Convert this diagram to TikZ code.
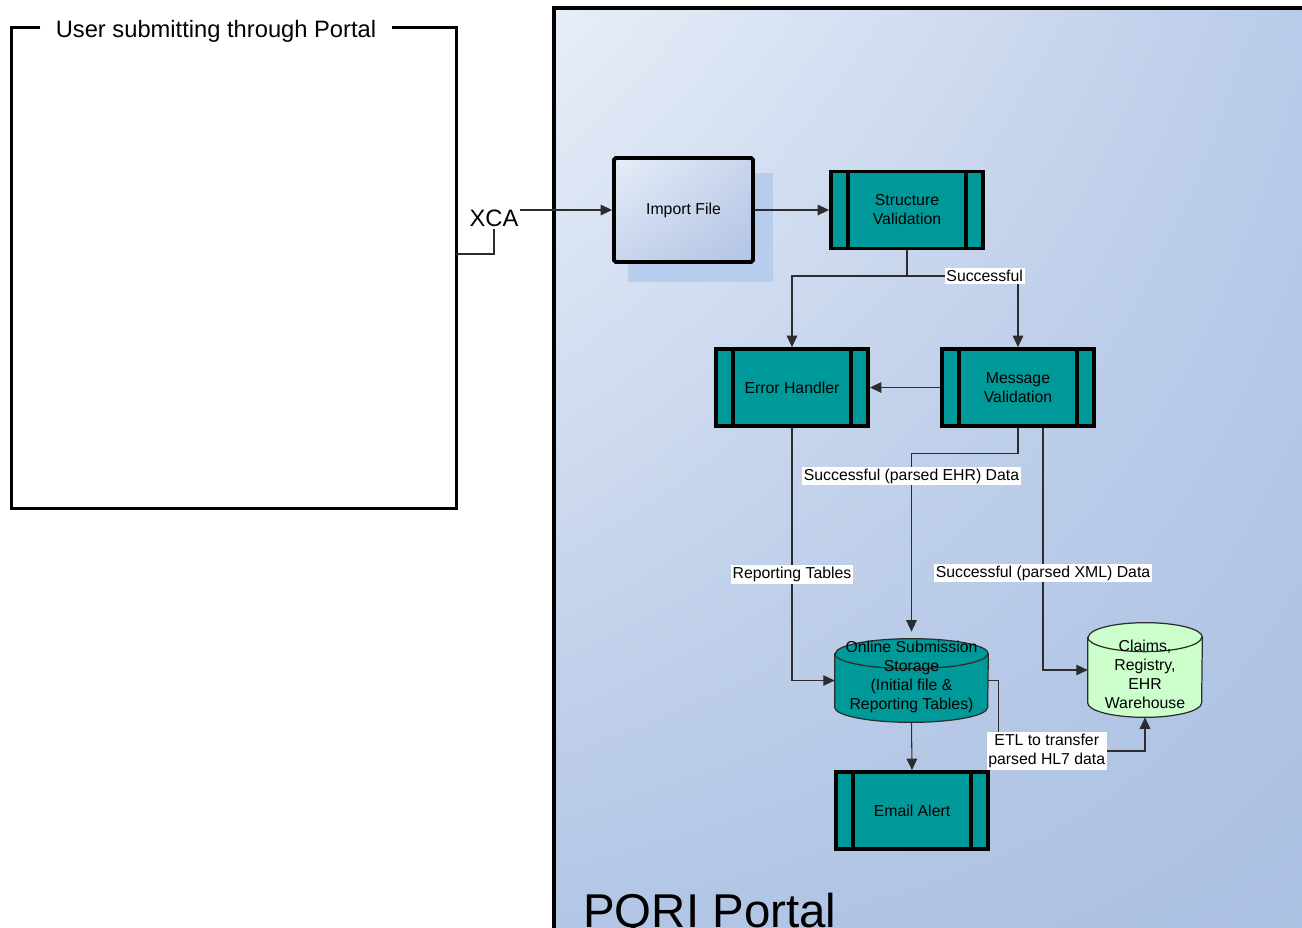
\documentclass[tikz,border=0pt]{standalone}
\usepackage{fontspec}
\setmainfont{Liberation Sans}
\usetikzlibrary{arrows.meta,shadings,calc}

\definecolor{procfill}{RGB}{0,153,153}
\definecolor{whsfill}{RGB}{204,255,204}
\definecolor{linkgray}{RGB}{45,45,45}
\definecolor{portallight}{RGB}{232,238,248}
\definecolor{portalright}{RGB}{184,202,232}
\definecolor{portalleft}{RGB}{178,197,229}
\definecolor{portaldark}{RGB}{170,192,226}
\definecolor{shadowblue}{RGB}{184,204,238}
\definecolor{importlight}{RGB}{230,237,248}
\definecolor{importmid}{RGB}{200,213,236}
\definecolor{importdark}{RGB}{178,196,228}

\newcommand\nodefont{\fontsize{9}{10.8}\selectfont}

% cylinder drawn round a named box node: #1 node, #2 x radius, #3 y radius, #4 fill
\newcommand\cylround[4]{%
  \path[cyl, fill=#4] ([yshift=-#3]#1.north west) -- ([yshift=#3]#1.south west)
      arc[start angle=180, end angle=360, x radius=#2, y radius=#3]
      -- ([yshift=-#3]#1.north east)
      arc[start angle=0, end angle=180, x radius=#2, y radius=#3] -- cycle;
  \path[cyl] ([yshift=-#3]#1.north west) arc[start angle=180, end angle=360, x radius=#2, y radius=#3];}

\tikzset{
  proc/.style={draw, line width=2.2pt, fill=procfill, minimum width=3.04cm, minimum height=1.54cm,
    align=center, font=\nodefont,
    path picture={
      \draw[line width=2.2pt]
        ([xshift=0.34cm]path picture bounding box.north west) -- ([xshift=0.34cm]path picture bounding box.south west)
        ([xshift=-0.34cm]path picture bounding box.north east) -- ([xshift=-0.34cm]path picture bounding box.south east);}},
  storebox/.style={inner sep=0pt},
  cyl/.style={draw=linkgray, line width=0.7pt},
  lbl/.style={fill=white, inner sep=1pt, font=\nodefont, align=center},
  link/.style={draw=linkgray, line width=0.6pt},
}

\begin{document}
\begin{tikzpicture}[x=0.02cm, y=-0.02cm, >={Triangle[length=6.5pt,width=6pt]}]
    \clip (0,0) rectangle (1302,927);
    \fill[white] (0,0) rectangle (1302,927);

    % Portal area
    \shade[upper left=portallight, upper right=portalright, lower left=portalleft, lower right=portaldark]
        (554,8) rectangle (1330,950);
    \draw[line width=2.3pt] (554,950) -- (554,8) -- (1330,8);
    \node[anchor=base west, inner sep=0pt, font=\fontsize{27}{32}\selectfont] (pqri) at (583,927) {PQRI Portal};

    % User side
    \node[minimum width=8.88cm, minimum height=9.6cm, inner sep=0pt] (usr) at (234,268) {};
    \node[inner xsep=0.3cm, inner ysep=0pt, font=\fontsize{13.5}{16}\selectfont] (usrt) at (216,31) {User submitting through Portal};
    \draw[line width=1.9pt] (usrt.west |- usr.north) -| (usr.south west) -| (usr.north east) -- (usrt.east |- usr.north);
    \node[fill=white, inner sep=1pt, font=\fontsize{13.5}{16}\selectfont] (xca) at (494,218) {XCA};
    \coordinate (usrout) at (456,254);

    % Nodes
    \fill[shadowblue] (628,173) rectangle (773,282);
    \node[draw, line width=2.2pt, rounded corners=1pt, minimum width=2.78cm, minimum height=2.08cm, font=\nodefont,
          shade, upper left=importlight, upper right=importmid, lower left=importmid, lower right=importdark]
          (imp) at (683.5,210) {Import File};
    \node[proc] (strv) at (907,210)    {Structure\\Validation};
    \node[proc] (err)  at (792,387.5)  {Error Handler};
    \node[proc] (msgv) at (1018,387.5) {Message\\Validation};
    \node[proc] (mail) at (912,810.5)  {Email Alert};

    \node[storebox, minimum width=3.06cm, minimum height=1.66cm] (stor) at (911.5,680.5) {};
    \cylround{stor}{1.53cm}{0.3cm}{procfill}
    \node[font=\nodefont, align=center, inner sep=0pt] (stortxt) at ($(stor.center)+(0,-4)$)
        {Online Submission\\Storage\\(Initial file \&\\Reporting Tables)};
    \node[storebox, minimum width=2.28cm, minimum height=1.88cm] (whs) at (1145,670) {};
    \cylround{whs}{1.14cm}{0.29cm}{whsfill}
    \node[font=\nodefont, align=center, inner sep=0pt] (whstxt) at ($(whs.center)+(0,4)$)
        {Claims,\\Registry,\\EHR\\Warehouse};

    % Paths
    \coordinate (sp)   at (907,276);
    \coordinate (etlc) at (1145,751);
    \path[link]     (usrout) -| (xca.south);
    \path[link, ->] (xca.east |- imp.west) -- (imp.west);
    \path[link, ->] (imp.east) -- (strv.west);
    \path[link]     (strv.south) -- (sp);
    \path[link, ->] (sp) -| (err.north);
    \path[link, ->] (sp) -| node[lbl, pos=0.35] {Successful} (msgv.north);
    \path[link, ->] (msgv.west) -- (err.east);
    \path[link, ->, shorten >=4pt] (msgv.south) -- ++(0,26) -| node[lbl, pos=0.56] {Successful (parsed EHR) Data} (stor.north);
    \path[link, ->] ($(msgv.south)+(25,0)$) |- node[lbl, pos=0.3] {Successful (parsed XML) Data} (whs.west);
    \path[link, ->] (err.south) |- node[lbl, pos=0.29] {Reporting Tables} (stor.west);
    \path[link, ->] (stor.south) -- (mail.north);
    \path[link, ->] (stor.east) -- ++(10,0) |- node[lbl, pos=0.665] {ETL to transfer\\parsed HL7 data} (etlc) -- (whs.south);

\end{tikzpicture}
\end{document}
